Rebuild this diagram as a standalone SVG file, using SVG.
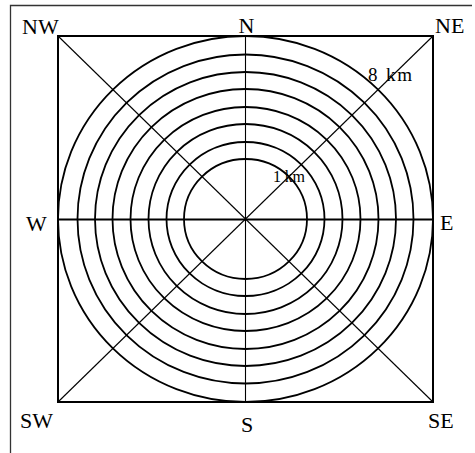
<svg xmlns="http://www.w3.org/2000/svg" width="475" height="453" viewBox="0 0 475 453">
<style>
.lbl{font-family:"Liberation Serif","Times New Roman",serif;font-size:22px;fill:#000}
.km{font-family:"Liberation Serif","Times New Roman",serif;fill:#000}
.ring{fill:none;stroke:#000;stroke-width:1.8}
.thin{stroke:#000;stroke-width:1.1;fill:none}
</style>
<rect x="0" y="0" width="475" height="453" fill="#fff"/>
<path id="frame" d="M10.5,453 V5.5 H472" fill="none" stroke="#333" stroke-width="1.3"/>
<g id="rings">
<ellipse class="ring" cx="245.5" cy="219" rx="61.5" ry="60"/>
<ellipse class="ring" cx="245.5" cy="219" rx="79" ry="77"/>
<ellipse class="ring" cx="245.5" cy="219" rx="97" ry="95"/>
<ellipse class="ring" cx="245.5" cy="219" rx="115" ry="112"/>
<ellipse class="ring" cx="245.5" cy="219" rx="133" ry="130"/>
<ellipse class="ring" cx="245.5" cy="219" rx="150.5" ry="147"/>
<ellipse class="ring" cx="245.5" cy="219" rx="168" ry="164.5"/>
<ellipse class="ring" cx="245.5" cy="219" rx="187.5" ry="183"/>
</g>
<g id="connectors">
<line class="thin" x1="58" y1="36" x2="433" y2="402"/>
<line class="thin" x1="433" y1="36" x2="58" y2="402"/>
<line class="thin" x1="245.5" y1="36" x2="245.5" y2="402"/>
<line x1="58" y1="219.5" x2="433" y2="219.5" stroke="#000" stroke-width="2"/>
</g>
<rect id="square" x="58" y="36" width="375" height="366" fill="none" stroke="#000" stroke-width="2"/>
<g id="labels">
<text class="lbl" x="22" y="34">NW</text>
<text class="lbl" x="246.5" y="33" text-anchor="middle">N</text>
<text class="lbl" x="435" y="33">NE</text>
<text class="lbl" x="26" y="231">W</text>
<text class="lbl" x="440" y="230">E</text>
<text class="lbl" x="20" y="428">SW</text>
<text class="lbl" x="247" y="432" text-anchor="middle">S</text>
<text class="lbl" x="428" y="428">SE</text>
<text class="km" x="368" y="81" font-size="19" textLength="44" lengthAdjust="spacing">8 km</text>
<text class="km" x="273" y="182" font-size="16" textLength="32" lengthAdjust="spacing">1 km</text>
</g>
</svg>
